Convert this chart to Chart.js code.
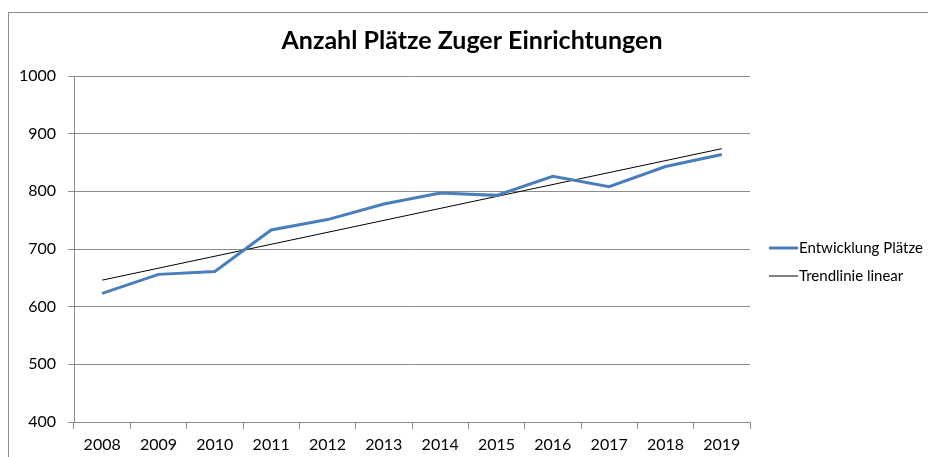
<!DOCTYPE html>
<html>
<head>
<meta charset="utf-8">
<script src="https://cdn.jsdelivr.net/npm/chart.js@4.4.1/dist/chart.umd.min.js"></script>
<style>
  html, body { margin: 0; padding: 0; background: #fff; }
  #wrap { width: 928px; height: 457px; position: relative; }
</style>
</head>
<body>
<div id="wrap"><canvas id="platzChart"></canvas></div>
<script>
const years = ['2008', '2009', '2010', '2011', '2012', '2013', '2014', '2015', '2016', '2017', '2018', '2019'];
const plaetze = [623, 656, 661, 733, 751, 778, 797, 793, 826, 808, 843, 864];
// trend line end points
const trend = [646, null, null, null, null, null, null, null, null, null, null, 874];
const yTicks = [400, 500, 600, 700, 800, 900, 1000];

Chart.defaults.font.family = 'Lato';
Chart.defaults.color = '#000';

// frame + legend on the right, drawn by hand
const frameLegend = {
  id: 'frameLegend',
  afterLayout(chart) {
    // title is centred over the whole frame, not only the plot
    chart.titleBlock.left = 0;
    chart.titleBlock.right = 944;
  },
  beforeDraw(chart) {
    const c = chart.ctx;
    c.save();
    c.strokeStyle = '#8c8c8c';
    c.lineWidth = 1;
    c.strokeRect(8.5, 12.5, 1000, 1000);
    c.restore();
  },
  afterDraw(chart) {
    const c = chart.ctx;
    c.save();
    c.font = '15px Lato';
    c.textBaseline = 'middle';
    c.fillStyle = '#000';
    chart.data.datasets.forEach((ds, i) => {
      const y = 248 + i * 28;
      c.strokeStyle = ds.borderColor;
      c.lineWidth = ds.borderWidth;
      c.beginPath();
      c.moveTo(769, y);
      c.lineTo(798, y);
      c.stroke();
      c.fillText(ds.label, 799, y);
    });
    c.restore();
  }
};

const ctx = document.getElementById('platzChart').getContext('2d');
const platzChart = new Chart(ctx, {
  type: 'line',
  data: {
    labels: years,
    datasets: [{
      label: 'Entwicklung Plätze',
      data: plaetze,
      borderColor: '#4A7EBB',
      borderWidth: 3,
      pointRadius: 0,
      tension: 0
    }, {
      label: 'Trendlinie linear',
      data: trend,
      borderColor: '#000',
      borderWidth: 1,
      pointRadius: 0,
      spanGaps: true
    }]
  },
  options: {
    responsive: true,
    maintainAspectRatio: false,
    animation: false,
    layout: {
      padding: { left: 0, right: 178, top: 0, bottom: 0 }
    },
    scales: {
      y: {
        min: 400,
        max: 1000,
        afterFit: s => { s.width = 74; },
        afterBuildTicks: s => { s.ticks = yTicks.map(v => ({ value: v })); },
        ticks: {
          font: { size: 16 },
          padding: 12,
          callback: v => String(v)
        },
        grid: {
          color: '#8c8c8c',
          tickLength: 6
        },
        border: { color: '#8c8c8c' }
      },
      x: {
        offset: true,
        afterFit: s => { s.height = 35; },
        ticks: {
          font: { size: 16 },
          padding: 6,
          maxRotation: 0
        },
        grid: {
          offset: true,
          drawOnChartArea: false,
          color: '#8c8c8c',
          tickLength: 7
        },
        border: { color: '#8c8c8c' }
      }
    },
    plugins: {
      legend: { display: false },
      tooltip: { enabled: false },
      title: {
        display: true,
        text: 'Anzahl Plätze Zuger Einrichtungen',
        color: '#000',
        font: { size: 25, weight: 'bold' },
        padding: { top: 26, bottom: 20 }
      }
    }
  },
  plugins: [frameLegend]
});
</script>
</body>
</html>
